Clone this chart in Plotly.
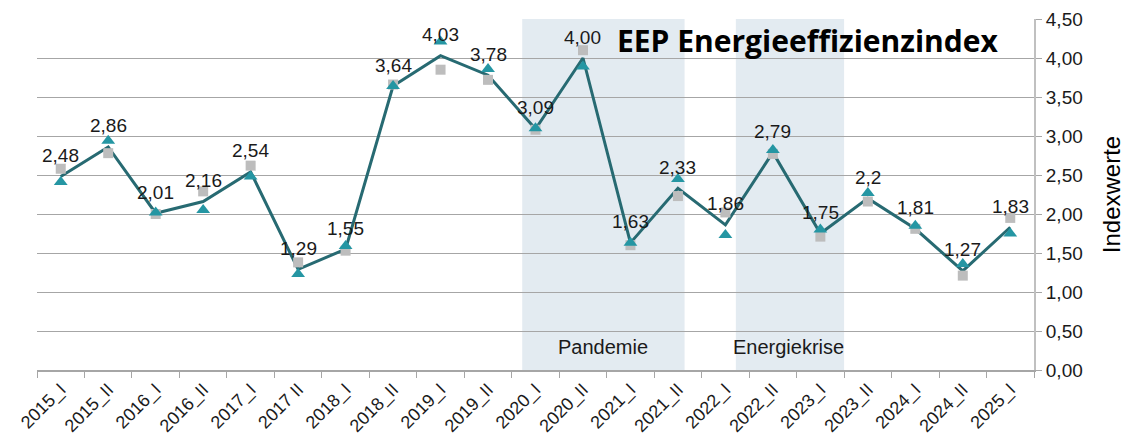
import plotly.graph_objects as go

categories = ["2015_I", "2015_II", "2016_I", "2016_II", "2017_I", "2017 II", "2018_I", "2018_II",
              "2019_I", "2019_II", "2020_I", "2020_II", "2021_I", "2021_II", "2022_I", "2022_II",
              "2023_I", "2023_II", "2024_I", "2024_II", "2025_I"]
index_values = [2.48, 2.86, 2.01, 2.16, 2.54, 1.29, 1.55, 3.64, 4.03, 3.78, 3.09, 4.00, 1.63, 2.33,
                1.86, 2.79, 1.75, 2.2, 1.81, 1.27, 1.83]
index_labels = ["2,48", "2,86", "2,01", "2,16", "2,54", "1,29", "1,55", "3,64", "4,03", "3,78", "3,09",
                "4,00", "1,63", "2,33", "1,86", "2,79", "1,75", "2,2", "1,81", "1,27", "1,83"]
triangle_values = [2.41, 2.94, 2.02, 2.05, 2.48, 1.23, 1.59, 3.64, 4.21, 3.86, 3.10, 3.89, 1.63, 2.45,
                   1.73, 2.82, 1.80, 2.27, 1.85, 1.36, 1.75]
square_values = [2.58, 2.78, 2.00, 2.29, 2.62, 1.38, 1.53, 3.66, 3.85, 3.72, 3.08, 4.10, 1.60, 2.23,
                 2.02, 2.77, 1.71, 2.16, 1.81, 1.21, 1.95]
periods = ["Pandemie", "Energiekrise"]
period_start = [9.72, 14.22]
period_end = [13.14, 16.5]
period_label_x = [11.43, 15.33]
title_text = "EEP Energieeffizienzindex"

FONT = "Liberation Sans, Arial"

fig = go.Figure()

for name, x0, x1, xl in zip(periods, period_start, period_end, period_label_x):
    fig.add_shape(type="rect", xref="x", yref="paper", x0=x0, x1=x1, y0=0, y1=1,
                  fillcolor="#e3ebf1", line_width=0, layer="below")
    fig.add_annotation(x=xl, y=0.3, xref="x", yref="y", text=name, showarrow=False,
                       font=dict(family=FONT, size=20, color="#1a1a1a"))

fig.add_trace(go.Scatter(x=categories, y=index_values, mode="lines",
                         line=dict(color="#276a72", width=3),
                         showlegend=False))
fig.add_trace(go.Scatter(x=categories, y=square_values, mode="markers",
                         marker=dict(symbol="square", size=10, color="#bdbdbd"),
                         showlegend=False, hoverinfo="skip"))
fig.add_trace(go.Scatter(x=categories, y=triangle_values, mode="markers",
                         marker=dict(symbol="triangle-up", size=12, color="#2596a3"),
                         showlegend=False, hoverinfo="skip"))

for cat, v, lab in zip(categories, index_values, index_labels):
    fig.add_annotation(x=cat, y=v, xref="x", yref="y", text=lab, showarrow=False,
                       yshift=21, font=dict(family=FONT, size=19, color="#1a1a1a"))

fig.add_annotation(x=0.773, y=0.94, xref="paper", yref="paper", text="<b>" + title_text + "</b>",
                   showarrow=False, xanchor="center", yanchor="middle",
                   font=dict(family="Open Sans", size=30, color="#000000"))

fig.update_layout(
    width=1125, height=435,
    margin=dict(l=37, r=91, t=19, b=65),
    paper_bgcolor="white", plot_bgcolor="white",
    separators=",.",
    showlegend=False,
)
fig.update_xaxes(
    type="category", categoryorder="array", categoryarray=categories,
    range=[-0.5, len(categories) - 0.5], automargin=False,
    tickson="boundaries", ticks="outside", ticklen=6, tickcolor="#a6a6a6",
    showline=True, linecolor="#a6a6a6", linewidth=1.5,
    showgrid=False, tickangle=-45,
    tickfont=dict(family=FONT, size=18, color="#1a1a1a"),
)
fig.update_yaxes(
    side="right", range=[0, 4.5], dtick=0.5, tickformat=".2f", automargin=False,
    ticks="outside", ticklen=6, tickcolor="#a6a6a6",
    showline=True, linecolor="#c0c0c0", linewidth=2,
    showgrid=True, gridcolor="#a6a6a6", gridwidth=1, zeroline=False,
    tickfont=dict(family=FONT, size=19, color="#1a1a1a"),
    title=dict(text="Indexwerte", standoff=22,
               font=dict(family=FONT, size=24, color="#000000")),
)

fig.write_html("out.html", config={"displayModeBar": False},
               post_script="document.body.style.margin='0px';")
